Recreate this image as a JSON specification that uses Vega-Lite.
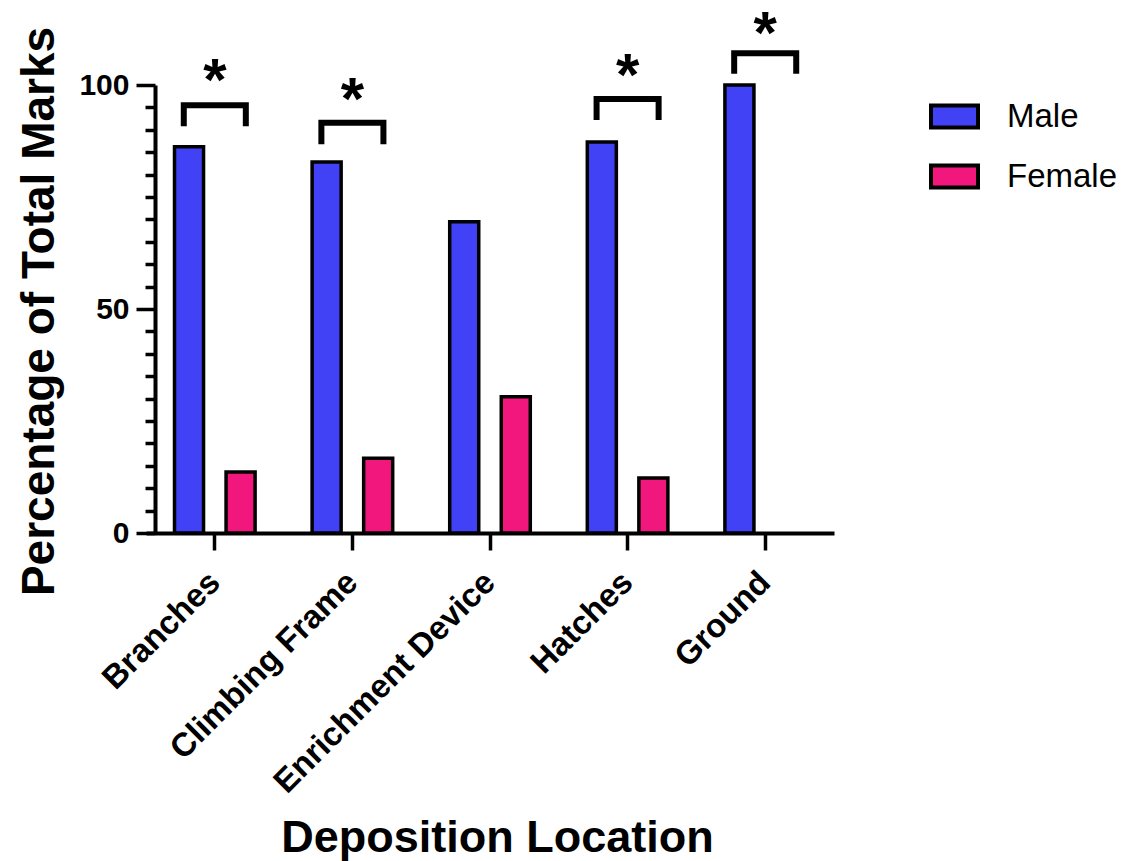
{
  "$schema": "https://vega.github.io/schema/vega-lite/v6.json",
  "width": 688,
  "height": 448,
  "autosize": {"type": "none"},
  "padding": {"left": 146, "top": 85, "right": 292, "bottom": 328},
  "background": "white",
  "config": {"view": {"stroke": null}, "font": "Liberation Sans"},
  "datasets": {
    "bars": [
      {"location": "Branches", "sex": "Male", "pct": 86.2},
      {"location": "Branches", "sex": "Female", "pct": 13.6},
      {"location": "Climbing Frame", "sex": "Male", "pct": 82.8},
      {"location": "Climbing Frame", "sex": "Female", "pct": 16.7},
      {"location": "Enrichment Device", "sex": "Male", "pct": 69.5},
      {"location": "Enrichment Device", "sex": "Female", "pct": 30.4},
      {"location": "Hatches", "sex": "Male", "pct": 87.3},
      {"location": "Hatches", "sex": "Female", "pct": 12.3},
      {"location": "Ground", "sex": "Male", "pct": 100}
    ],
    "brackets": [
      {"location": "Branches", "side": "L", "ord": 1, "y": 90.8},
      {"location": "Branches", "side": "L", "ord": 2, "y": 95.5},
      {"location": "Branches", "side": "R", "ord": 3, "y": 95.5},
      {"location": "Branches", "side": "R", "ord": 4, "y": 90.8},
      {"location": "Climbing Frame", "side": "L", "ord": 1, "y": 86.8},
      {"location": "Climbing Frame", "side": "L", "ord": 2, "y": 91.6},
      {"location": "Climbing Frame", "side": "R", "ord": 3, "y": 91.6},
      {"location": "Climbing Frame", "side": "R", "ord": 4, "y": 86.8},
      {"location": "Hatches", "side": "L", "ord": 1, "y": 92.2},
      {"location": "Hatches", "side": "L", "ord": 2, "y": 96.9},
      {"location": "Hatches", "side": "R", "ord": 3, "y": 96.9},
      {"location": "Hatches", "side": "R", "ord": 4, "y": 92.2},
      {"location": "Ground", "side": "L", "ord": 1, "y": 102.5},
      {"location": "Ground", "side": "L", "ord": 2, "y": 107.1},
      {"location": "Ground", "side": "R", "ord": 3, "y": 107.1},
      {"location": "Ground", "side": "R", "ord": 4, "y": 102.5}
    ],
    "stars": [
      {"location": "Branches", "y": 102.7, "label": "*"},
      {"location": "Climbing Frame", "y": 98.4, "label": "*"},
      {"location": "Hatches", "y": 103.8, "label": "*"},
      {"location": "Ground", "y": 113.2, "label": "*"}
    ]
  },
  "layer": [
    {
      "data": {"name": "bars"},
      "mark": {"type": "bar", "stroke": "black", "strokeWidth": 3.5},
      "encoding": {
        "x": {
          "field": "location", "type": "nominal",
          "sort": ["Branches", "Climbing Frame", "Enrichment Device", "Hatches", "Ground"],
          "scale": {"paddingInner": 0, "paddingOuter": 0},
          "title": "Deposition Location",
          "axis": {
            "labelAngle": -45, "labelAlign": "right", "labelBaseline": "middle",
            "labelFontSize": 33, "labelFontWeight": "bold", "labelColor": "black", "labelLimit": 0,
            "labelPadding": 27, "tickSize": 17, "tickWidth": 3.5, "tickColor": "black",
            "domainWidth": 4, "domainColor": "black", "grid": false,
            "titleFontSize": 45, "titleFontWeight": "bold", "titleColor": "black",
            "titleY": 318, "titleX": 351, "titleBaseline": "alphabetic", "titleAlign": "center"
          }
        },
        "xOffset": {
          "field": "sex", "type": "nominal", "sort": ["Male", "Female"],
          "scale": {"domain": ["Male", "Female"], "paddingInner": 0.437, "paddingOuter": 0.553}
        },
        "y": {
          "field": "pct", "type": "quantitative",
          "scale": {"domain": [0, 100], "nice": false},
          "title": "Percentage of Total Marks",
          "axis": {
            "values": [0, 5, 10, 15, 20, 25, 30, 35, 40, 45, 50, 55, 60, 65, 70, 75, 80, 85, 90, 95, 100],
            "tickCount": 30,
            "labelExpr": "datum.value % 50 === 0 ? datum.label : ''",
            "tickSize": {"condition": {"test": "datum.value % 50 === 0", "value": 19}, "value": 10},
            "tickWidth": 3.5, "tickColor": "black", "domainWidth": 4, "domainColor": "black",
            "labelFontSize": 30, "labelFontWeight": "bold", "labelColor": "black",
            "labelPadding": 7, "labelOverlap": false, "offset": -9, "grid": false,
            "titleFontSize": 46, "titleFontWeight": "bold", "titleColor": "black",
            "titleX": -102, "titleY": 226, "titleAngle": -90, "titleBaseline": "alphabetic", "titleAlign": "center"
          }
        },
        "color": {
          "field": "sex", "type": "nominal", "sort": ["Male", "Female"],
          "scale": {"domain": ["Male", "Female"], "range": ["#4141F5", "#F2177D"]},
          "legend": {
            "title": null, "orient": "none", "legendX": 783, "legendY": 6, "padding": 0,
            "symbolType": "M-1,-0.47H1V0.47H-1Z", "symbolSize": 2209,
            "symbolStrokeColor": "black", "symbolStrokeWidth": 4, "symbolOpacity": 1,
            "labelFontSize": 33, "labelColor": "black", "labelFont": "Liberation Sans",
            "labelOffset": 27, "rowPadding": 15
          }
        }
      }
    },
    {
      "data": {"name": "brackets"},
      "mark": {"type": "line", "color": "black", "strokeWidth": 6, "strokeJoin": "miter", "strokeCap": "butt", "clip": false},
      "encoding": {
        "x": {
          "field": "location", "type": "nominal",
          "sort": ["Branches", "Climbing Frame", "Enrichment Device", "Hatches", "Ground"],
          "title": "Deposition Location"
        },
        "xOffset": {
          "field": "side", "type": "nominal", "sort": ["L", "R"],
          "scale": {"padding": 0.609}
        },
        "y": {"field": "y", "type": "quantitative", "title": "Percentage of Total Marks"},
        "detail": {"field": "location"},
        "order": {"field": "ord"}
      }
    },
    {
      "data": {"name": "stars"},
      "mark": {"type": "text", "fontSize": 60, "fontWeight": "bold", "font": "Liberation Sans", "color": "black", "baseline": "alphabetic", "dy": 27, "clip": false},
      "encoding": {
        "x": {
          "field": "location", "type": "nominal",
          "sort": ["Branches", "Climbing Frame", "Enrichment Device", "Hatches", "Ground"],
          "title": "Deposition Location"
        },
        "y": {"field": "y", "type": "quantitative", "title": "Percentage of Total Marks"},
        "text": {"field": "label"}
      }
    }
  ],
  "resolve": {"scale": {"xOffset": "independent"}}
}
